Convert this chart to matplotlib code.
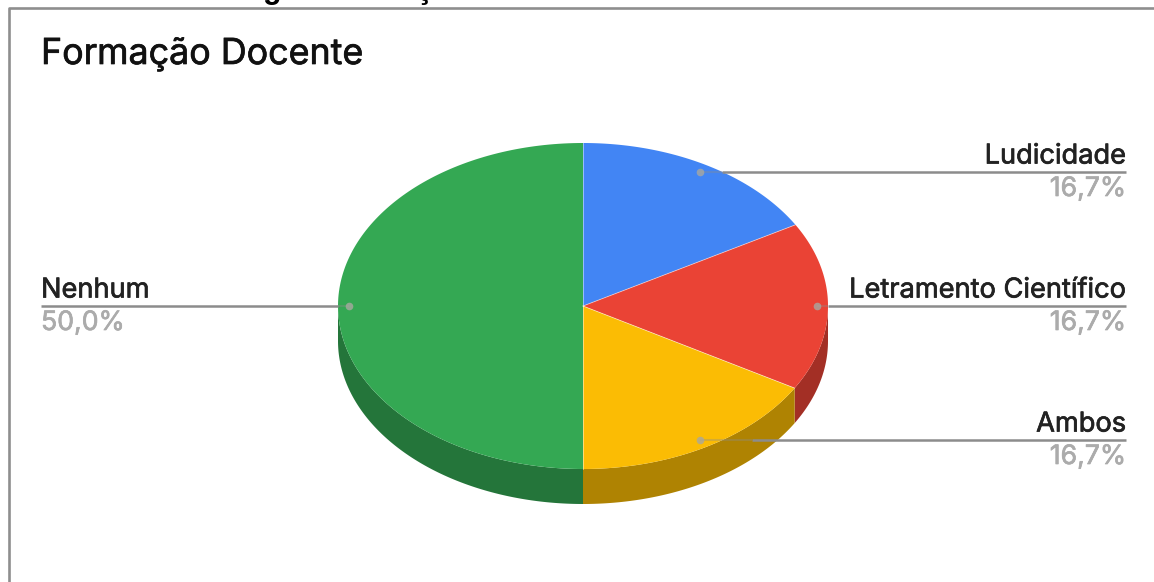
import numpy as np
import matplotlib
matplotlib.use("Agg")
import matplotlib.pyplot as plt
import matplotlib.patheffects as pe
from matplotlib.patches import Polygon, Rectangle

categories = ["Ludicidade", "Letramento Científico", "Ambos", "Nenhum"]
values = [16.7, 16.7, 16.6, 50.0]
value_labels = ["16,7%", "16,7%", "16,7%", "50,0%"]
top_colors = ["#4285F4", "#EA4335", "#FBBC04", "#34A853"]
side_colors = ["#2E5DAA", "#A32F25", "#AF8302", "#24753A"]
label_x = [1126, 1126, 1126, 41]
leader_y = [172, 306, 440, 306]
leader_start = [700, 817, 700, 349]
leader_edge = [722, 828, 752, 338]

W, H = 1154, 582
CX, CY, RX, RY, DEPTH = 583, 306, 245, 163, 35

plt.rcParams["font.family"] = ["Inter", "Liberation Sans", "DejaVu Sans"]

fig = plt.figure(figsize=(W / 100, H / 100), dpi=100, facecolor="white")
ax = fig.add_axes([0, 0, 1, 1])
ax.set_xlim(0, W)
ax.set_ylim(H, 0)
ax.axis("off")


def rim(theta):
    # Clockwise angle from 12 o'clock mapped onto the flattened disc
    return CX + RX * np.sin(theta), CY - RY * np.cos(theta)


def heavier(color, width=0.5):
    return [pe.withStroke(linewidth=width, foreground=color)]


# Descenders of the document caption running above the chart frame
for glyph, gx in (("g", 263), ("ç", 416)):
    t = ax.text(gx, -2, glyph, fontsize=22, fontweight="bold", color="black",
                family=["Liberation Sans", "DejaVu Sans"],
                ha="left", va="baseline", clip_on=True)
    t.set_clip_path(Rectangle((0, 0), W, 6, transform=ax.transData))

# Chart frame
ax.plot([8.5, 8.5, W], [H, 7.5, 7.5], color="#8e8e8e", lw=1.9, solid_capstyle="butt")

edges = np.cumsum([0] + values) / sum(values) * 2 * np.pi

# Extruded side of the disc, only on the front half
for i, color in enumerate(side_colors):
    a, b = max(edges[i], np.pi / 2), min(edges[i + 1], 3 * np.pi / 2)
    if b <= a:
        continue
    th = np.linspace(a, b, 120)
    x, y = rim(th)
    pts = np.r_[np.c_[x, y], np.c_[x[::-1], y[::-1] + DEPTH]]
    ax.add_patch(Polygon(pts, closed=True, fc=color, ec="none", zorder=2))

# Top face of the disc
for i, color in enumerate(top_colors):
    th = np.linspace(edges[i], edges[i + 1], 160)
    x, y = rim(th)
    pts = np.r_[[[CX, CY]], np.c_[x, y]]
    ax.add_patch(Polygon(pts, closed=True, fc=color, ec="none", zorder=3))
    ax.plot([CX, x[0]], [CY, y[0]], color="white", lw=0.6, alpha=0.55, zorder=4)

# Leader lines fade over the disc; labels sit above and below each line
for name, pct, lx, ly, sx, ex in zip(categories, value_labels, label_x,
                                     leader_y, leader_start, leader_edge):
    ax.plot([sx, ex], [ly, ly], color="#8c8c8c", lw=1.5, alpha=0.35, zorder=5,
            solid_capstyle="butt")
    ax.plot([ex, lx], [ly, ly], color="#8c8c8c", lw=1.8, zorder=5, solid_capstyle="butt")
    ax.plot([sx], [ly], "o", ms=5.5, color="#a8a8a0", mec="none", alpha=0.8, zorder=6)
    ha = "right" if lx > CX else "left"
    ax.text(lx, ly - 8.5, name, fontsize=19.6, color="#222222", ha=ha, va="baseline",
            zorder=7, path_effects=heavier("#222222"))
    ax.text(lx, ly + 24, pct, fontsize=19.2, color="#ababab", ha=ha, va="baseline",
            zorder=7, path_effects=heavier("#ababab"))

ax.text(41, 64, "Formação Docente", fontsize=25.8, color="#111111", ha="left",
        va="baseline", path_effects=heavier("#111111"))

fig.savefig("out.png", dpi=100, facecolor="white")
